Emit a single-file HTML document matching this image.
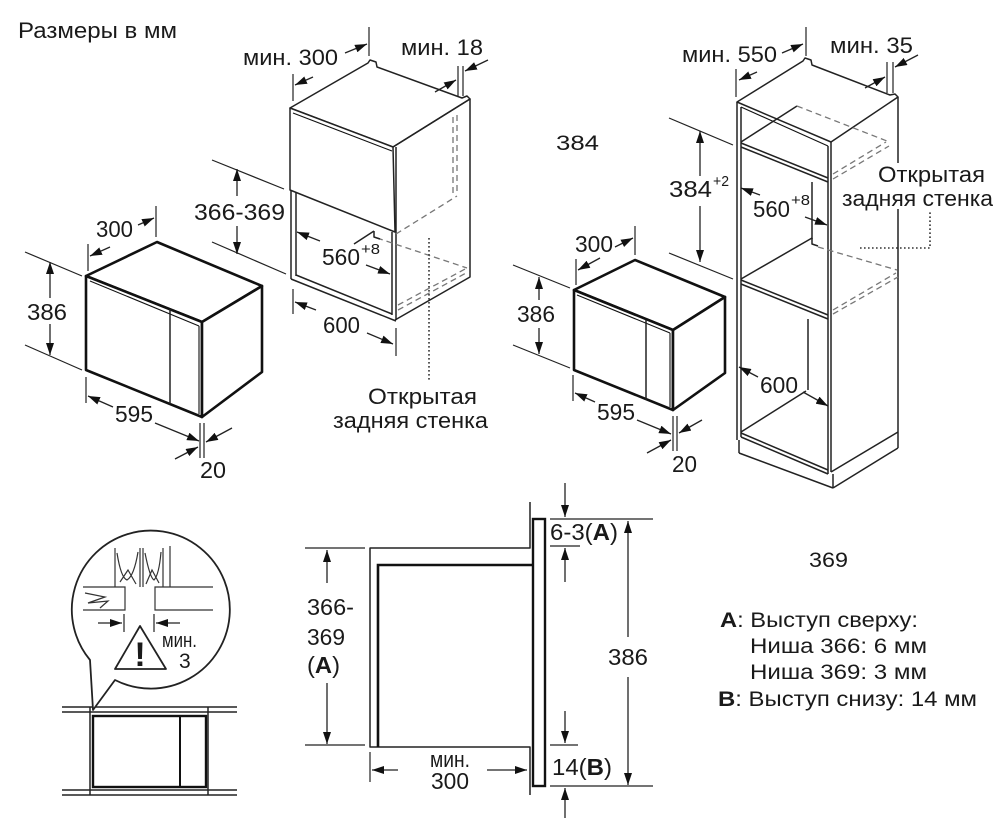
<!DOCTYPE html>
<html><head><meta charset="utf-8"><style>
html,body{margin:0;padding:0;background:#fff;}
svg{display:block;}
.o{fill:none;stroke:#222;stroke-width:1.5;stroke-linejoin:round}
.w{fill:#fff;stroke:#222;stroke-width:1.5;stroke-linejoin:round}
.t{fill:#fff;stroke:#111;stroke-width:2.6;stroke-linejoin:round}
.th{fill:none;stroke:#111;stroke-width:1.1}
.d{fill:none;stroke:#222;stroke-width:1.2}
.ar{fill:none;stroke:#222;stroke-width:1.3;marker-end:url(#a)}
.ds{fill:none;stroke:#777;stroke-width:1.3;stroke-dasharray:6 4}
.dt{fill:none;stroke:#333;stroke-width:1.6;stroke-dasharray:1.6 2.4}
text{font-family:"Liberation Sans",Arial,sans-serif;fill:#1a1a1a}
.n{font-size:23.5px}
.l{font-size:22.5px}
.g{font-size:21.5px}
.s{font-size:15px}
</style></head><body>
<svg width="1006" height="826" viewBox="0 0 1006 826" xmlns="http://www.w3.org/2000/svg">
<defs>
<marker id="a" markerUnits="userSpaceOnUse" markerWidth="12" markerHeight="8" viewBox="0 0 12 8" refX="12" refY="4" orient="auto">
<path d="M0,0 L12,4 L0,8 z" fill="#111"/>
</marker>
</defs>
<rect width="1006" height="826" fill="#fff"/>

<text class="l" x="18" y="38" textLength="159" lengthAdjust="spacingAndGlyphs">Размеры в мм</text>

<!-- ===== Left microwave ===== -->
<polygon class="t" points="86,276 157,242 262,286 202,322"/>
<polygon class="t" points="86,276 202,322 202,417 86,370"/>
<polygon class="t" points="202,322 262,286 262,372 202,417"/>
<line class="th" x1="90" y1="281" x2="199" y2="326"/>
<line class="th" x1="199" y1="326" x2="199" y2="414"/>
<line class="o" x1="170" y1="309" x2="170" y2="404"/>
<!-- dims -->
<line class="d" x1="25" y1="252" x2="82" y2="276"/>
<line class="d" x1="25" y1="345" x2="82" y2="370"/>
<line class="ar" x1="50" y1="298" x2="50" y2="262"/>
<line class="ar" x1="50" y1="324" x2="50" y2="355"/>
<text class="n" x="27" y="320" textLength="40" lengthAdjust="spacingAndGlyphs">386</text>
<line class="d" x1="88" y1="244" x2="88" y2="271"/>
<line class="d" x1="156" y1="206" x2="156" y2="237"/>
<line class="ar" x1="110" y1="247" x2="90" y2="256"/>
<line class="ar" x1="138" y1="225" x2="154" y2="218"/>
<text class="n" x="96" y="237" textLength="37" lengthAdjust="spacingAndGlyphs">300</text>
<line class="d" x1="86" y1="377" x2="86" y2="403"/>
<line class="ar" x1="113" y1="407" x2="88" y2="396"/>
<line class="ar" x1="155" y1="423" x2="199" y2="441"/>
<text class="n" x="115" y="422" textLength="38" lengthAdjust="spacingAndGlyphs">595</text>
<line class="d" x1="200" y1="423" x2="200" y2="458"/>
<line class="d" x1="204" y1="423" x2="204" y2="458"/>
<line class="ar" x1="232" y1="428" x2="206" y2="442"/>
<line class="ar" x1="175" y1="459" x2="198" y2="447"/>
<text class="n" x="200" y="478" textLength="26" lengthAdjust="spacingAndGlyphs">20</text>

<!-- ===== Middle cabinet ===== -->
<polygon class="w" points="290,108 368,63 370,60 376,62 377,67 462,98 467,96 470,99 393,147"/>
<polygon class="w" points="290,108 393,147 395,232 290,190"/>
<line class="th" x1="293" y1="113" x2="392" y2="151"/>
<polyline class="o" points="393,147 470,99 470,277 395,320"/>
<line class="o" x1="396" y1="147" x2="396" y2="320"/>
<line class="o" x1="392" y1="232" x2="392" y2="315"/>
<line class="o" x1="291" y1="190" x2="291" y2="279"/>
<line class="o" x1="296" y1="192" x2="296" y2="276"/>
<line class="o" x1="291" y1="279" x2="396" y2="321"/>
<line class="o" x1="296" y1="275" x2="392" y2="314"/>
<line class="ds" x1="453" y1="117" x2="453" y2="193"/>
<line class="ds" x1="457" y1="115" x2="457" y2="192"/>
<line class="ds" x1="396" y1="234" x2="457" y2="196"/>
<line class="ds" x1="377" y1="238" x2="467" y2="268"/>
<line class="ds" x1="398" y1="305" x2="467" y2="268"/>
<line class="ds" x1="398" y1="310" x2="468" y2="272"/>
<line class="o" x1="354" y1="244" x2="374" y2="231"/>
<path class="o" d="M374,231 L374,237 L380,239"/>
<line class="dt" x1="429" y1="238" x2="429" y2="380"/>
<!-- dims -->
<text class="l" x="243" y="65" textLength="95" lengthAdjust="spacingAndGlyphs">мин. 300</text>
<line class="ar" x1="345" y1="53" x2="367" y2="44"/>
<line class="d" x1="369" y1="27" x2="369" y2="56"/>
<line class="d" x1="293" y1="74" x2="293" y2="101"/>
<line class="ar" x1="313" y1="77" x2="295" y2="85"/>
<text class="l" x="401" y="55" textLength="82" lengthAdjust="spacingAndGlyphs">мин. 18</text>
<line class="d" x1="458" y1="66" x2="458" y2="96"/>
<line class="d" x1="463" y1="66" x2="463" y2="96"/>
<line class="ar" x1="435" y1="92" x2="456" y2="80"/>
<line class="ar" x1="488" y1="60" x2="465" y2="71"/>
<line class="d" x1="212" y1="160" x2="284" y2="189"/>
<line class="d" x1="212" y1="242" x2="286" y2="274"/>
<line class="ar" x1="237" y1="196" x2="237" y2="169"/>
<line class="ar" x1="237" y1="226" x2="237" y2="254"/>
<text class="n" x="194" y="220" textLength="91" lengthAdjust="spacingAndGlyphs">366-369</text>
<line class="ar" x1="320" y1="241" x2="297" y2="232"/>
<text class="n" x="322" y="265" textLength="38" lengthAdjust="spacingAndGlyphs">560</text>
<text class="s" x="361" y="254" textLength="19" lengthAdjust="spacingAndGlyphs">+8</text>
<line class="ar" x1="366" y1="265" x2="390" y2="274"/>
<line class="d" x1="293" y1="289" x2="293" y2="314"/>
<line class="ar" x1="316" y1="310" x2="295" y2="302"/>
<text class="n" x="323" y="333" textLength="37" lengthAdjust="spacingAndGlyphs">600</text>
<line class="ar" x1="367" y1="333" x2="393" y2="344"/>
<line class="d" x1="396" y1="328" x2="396" y2="356"/>
<text class="l" x="368" y="404" textLength="109" lengthAdjust="spacingAndGlyphs">Открытая</text>
<text class="l" x="333" y="428" textLength="155" lengthAdjust="spacingAndGlyphs">задняя стенка</text>

<!-- ===== Right cabinet ===== -->
<polygon class="w" points="737,102 803,61 805,58 811,60 812,65 890,95 895,94 898,97 831,142"/>
<line class="o" x1="737" y1="102" x2="737" y2="440"/>
<line class="o" x1="741" y1="107" x2="741" y2="437"/>
<line class="o" x1="828" y1="146" x2="828" y2="474"/>
<line class="o" x1="831" y1="142" x2="831" y2="472"/>
<line class="o" x1="898" y1="97" x2="898" y2="163"/>
<line class="o" x1="898" y1="209" x2="898" y2="448"/>
<line class="th" x1="741" y1="107" x2="828" y2="146"/>
<line class="o" x1="741" y1="143" x2="828" y2="178"/>
<line class="o" x1="741" y1="147" x2="828" y2="182"/>
<line class="o" x1="741" y1="142" x2="797" y2="106"/>
<line class="ds" x1="797" y1="106" x2="887" y2="141"/>
<line class="ds" x1="833" y1="174" x2="886" y2="142"/>
<line class="ds" x1="833" y1="179" x2="889" y2="146"/>
<line class="o" x1="812" y1="182" x2="812" y2="239"/>
<line class="o" x1="741" y1="279" x2="812" y2="238"/>
<path class="o" d="M812,238 L812,244 L818,246"/>
<line class="o" x1="741" y1="280" x2="828" y2="315"/>
<line class="o" x1="741" y1="284" x2="828" y2="319"/>
<line class="ds" x1="818" y1="247" x2="897" y2="270"/>
<line class="ds" x1="833" y1="310" x2="896" y2="273"/>
<line class="ds" x1="833" y1="314" x2="898" y2="277"/>
<line class="o" x1="808" y1="319" x2="808" y2="390"/>
<line class="o" x1="741" y1="432" x2="806" y2="391"/>
<line class="o" x1="741" y1="433" x2="828" y2="470"/>
<line class="o" x1="741" y1="437" x2="828" y2="474"/>
<line class="o" x1="739" y1="440" x2="739" y2="453"/>
<line class="o" x1="739" y1="453" x2="833" y2="488"/>
<line class="o" x1="833" y1="474" x2="833" y2="488"/>
<line class="o" x1="831" y1="472" x2="898" y2="432"/>
<line class="o" x1="833" y1="488" x2="898" y2="448"/>
<polyline class="dt" points="860,248 930,248 930,210"/>
<!-- dims -->
<text class="l" x="682" y="62" textLength="95" lengthAdjust="spacingAndGlyphs">мин. 550</text>
<line class="ar" x1="782" y1="53" x2="803" y2="44"/>
<line class="d" x1="806" y1="27" x2="806" y2="56"/>
<line class="d" x1="736" y1="69" x2="736" y2="97"/>
<line class="ar" x1="757" y1="72" x2="739" y2="80"/>
<text class="l" x="830" y="53" textLength="83" lengthAdjust="spacingAndGlyphs">мин. 35</text>
<line class="d" x1="887" y1="62" x2="887" y2="93"/>
<line class="d" x1="893" y1="62" x2="893" y2="93"/>
<line class="ar" x1="865" y1="88" x2="885" y2="77"/>
<line class="ar" x1="918" y1="55" x2="895" y2="67"/>
<line class="d" x1="669" y1="118" x2="733" y2="145"/>
<line class="d" x1="669" y1="253" x2="733" y2="279"/>
<line class="ar" x1="700" y1="176" x2="700" y2="131"/>
<line class="ar" x1="700" y1="206" x2="700" y2="262"/>
<text class="n" x="669" y="197" textLength="43" lengthAdjust="spacingAndGlyphs">384</text>
<text class="s" x="713" y="186" textLength="16" lengthAdjust="spacingAndGlyphs">+2</text>
<line class="ar" x1="760" y1="195" x2="741" y2="188"/>
<text class="n" x="753" y="217" textLength="37" lengthAdjust="spacingAndGlyphs">560</text>
<text class="s" x="791" y="205" textLength="19" lengthAdjust="spacingAndGlyphs">+8</text>
<line class="ar" x1="805" y1="217" x2="827" y2="225"/>
<text class="l" x="878" y="182" textLength="107" lengthAdjust="spacingAndGlyphs">Открытая</text>
<text class="l" x="842" y="206" textLength="151" lengthAdjust="spacingAndGlyphs">задняя стенка</text>
<line class="ar" x1="758" y1="377" x2="739" y2="367"/>
<text class="n" x="760" y="393" textLength="38" lengthAdjust="spacingAndGlyphs">600</text>
<line class="ar" x1="803" y1="392" x2="828" y2="406"/>
<text class="g" x="556" y="150" textLength="43" lengthAdjust="spacingAndGlyphs">384</text>

<!-- ===== Right microwave ===== -->
<polygon class="t" points="574,290 635,260 725,297 673,330"/>
<polygon class="t" points="574,290 673,330 673,410 574,370"/>
<polygon class="t" points="673,330 725,297 725,373 673,410"/>
<line class="th" x1="577" y1="295" x2="670" y2="333"/>
<line class="th" x1="670" y1="333" x2="670" y2="407"/>
<line class="o" x1="646" y1="320" x2="646" y2="400"/>
<line class="d" x1="513" y1="265" x2="570" y2="288"/>
<line class="d" x1="513" y1="345" x2="570" y2="368"/>
<line class="ar" x1="539" y1="300" x2="539" y2="277"/>
<line class="ar" x1="539" y1="328" x2="539" y2="354"/>
<text class="n" x="517" y="322" textLength="38" lengthAdjust="spacingAndGlyphs">386</text>
<line class="d" x1="576" y1="259" x2="576" y2="285"/>
<line class="d" x1="635" y1="226" x2="635" y2="255"/>
<line class="ar" x1="600" y1="258" x2="578" y2="270"/>
<line class="ar" x1="615" y1="247" x2="633" y2="238"/>
<text class="n" x="575" y="252" textLength="38" lengthAdjust="spacingAndGlyphs">300</text>
<line class="d" x1="573" y1="375" x2="573" y2="401"/>
<line class="ar" x1="595" y1="402" x2="575" y2="393"/>
<text class="n" x="597" y="420" textLength="38" lengthAdjust="spacingAndGlyphs">595</text>
<line class="ar" x1="637" y1="420" x2="671" y2="434"/>
<line class="d" x1="673" y1="416" x2="673" y2="451"/>
<line class="d" x1="677" y1="416" x2="677" y2="451"/>
<line class="ar" x1="702" y1="420" x2="679" y2="433"/>
<line class="ar" x1="647" y1="453" x2="671" y2="440"/>
<text class="n" x="672" y="472" textLength="25" lengthAdjust="spacingAndGlyphs">20</text>

<!-- ===== Bottom left detail ===== -->
<line class="o" x1="62" y1="707" x2="237" y2="707"/>
<line class="o" x1="62" y1="712" x2="237" y2="712"/>
<line class="o" x1="62" y1="790" x2="237" y2="790"/>
<line class="o" x1="62" y1="795" x2="237" y2="795"/>
<line class="o" x1="90" y1="707" x2="90" y2="795"/>
<line class="o" x1="208" y1="707" x2="208" y2="795"/>
<rect x="93" y="716" width="113" height="71" fill="none" stroke="#111" stroke-width="2.4"/>
<line x1="180" y1="716" x2="180" y2="787" stroke="#111" stroke-width="2"/>
<path d="M115,680 A79,79 0 1 0 90,660 L93,710 Z" fill="#fff" stroke="#222" stroke-width="1.8" stroke-linejoin="round"/>
<!-- inside circle -->
<g fill="none" stroke="#333" stroke-width="1.2">
<line x1="115" y1="548" x2="115" y2="587"/>
<line x1="140" y1="548" x2="140" y2="587"/>
<line x1="143" y1="548" x2="143" y2="587"/>
<line x1="163" y1="548" x2="163" y2="587"/>
<line x1="170" y1="546" x2="170" y2="587"/>
<path d="M117,553 Q121,578 127,580 Q134,576 138,552"/>
<path d="M145,553 Q150,578 154,580 Q159,575 161,552"/>
<path d="M120,582 L128,570 L136,584"/>
<path d="M146,584 L152,570 L159,583"/>
<polyline points="83,587 125,587 125,610 83,610"/>
<path d="M85,593 L105,597 L88,603 L108,601 L100,608"/>
<polyline points="213,587 155,587 155,610 213,610"/>
</g>
<line class="ar" x1="98" y1="623" x2="122" y2="623"/>
<line class="d" x1="124" y1="614" x2="124" y2="632"/>
<line class="ar" x1="180" y1="623" x2="156" y2="623"/>
<line class="d" x1="154" y1="614" x2="154" y2="632"/>
<path d="M140,626 L115,669 L166,669 Z" fill="none" stroke="#222" stroke-width="1.8" stroke-linejoin="round"/>
<text x="140" y="666" text-anchor="middle" style="font-size:34px;font-weight:bold">!</text>
<text x="162" y="647" style="font-size:20px" textLength="35" lengthAdjust="spacingAndGlyphs">мин.</text>
<text x="179" y="668" style="font-size:21px">3</text>

<!-- ===== Bottom middle section ===== -->
<polyline class="o" points="530,502 530,548 370,548 370,747 530,747 530,795"/>
<polyline fill="none" stroke="#111" stroke-width="2.6" points="533,565 378,565 378,747"/>
<rect x="533" y="519" width="12" height="267" fill="#fff" stroke="#111" stroke-width="2.4"/>
<line class="d" x1="550" y1="519" x2="653" y2="519"/>
<line class="d" x1="550" y1="546" x2="580" y2="546"/>
<line class="d" x1="550" y1="745" x2="578" y2="745"/>
<line class="d" x1="550" y1="786" x2="653" y2="786"/>
<line class="ar" x1="565" y1="483" x2="565" y2="517"/>
<line class="ar" x1="565" y1="582" x2="565" y2="548"/>
<line class="ar" x1="565" y1="711" x2="565" y2="743"/>
<line class="ar" x1="565" y1="818" x2="565" y2="788"/>
<text class="n" x="550" y="540" textLength="68" lengthAdjust="spacingAndGlyphs">6-3(<tspan font-weight="bold">A</tspan>)</text>
<text class="n" x="552" y="775" textLength="60" lengthAdjust="spacingAndGlyphs">14(<tspan font-weight="bold">B</tspan>)</text>
<line class="ar" x1="628" y1="637" x2="628" y2="521"/>
<line class="ar" x1="628" y1="677" x2="628" y2="785"/>
<text class="n" x="608" y="665" textLength="40" lengthAdjust="spacingAndGlyphs">386</text>
<line class="d" x1="305" y1="548" x2="365" y2="548"/>
<line class="d" x1="305" y1="745" x2="365" y2="745"/>
<line class="ar" x1="327" y1="583" x2="327" y2="550"/>
<line class="ar" x1="327" y1="683" x2="327" y2="744"/>
<text class="n" x="307" y="615" textLength="47" lengthAdjust="spacingAndGlyphs">366-</text>
<text class="n" x="307" y="645" textLength="38" lengthAdjust="spacingAndGlyphs">369</text>
<text class="n" x="307" y="673" textLength="33" lengthAdjust="spacingAndGlyphs">(<tspan font-weight="bold">A</tspan>)</text>
<line class="d" x1="370" y1="752" x2="370" y2="782"/>
<line class="ar" x1="398" y1="770" x2="372" y2="770"/>
<line class="ar" x1="487" y1="770" x2="527" y2="770"/>
<text class="l" x="430" y="767" textLength="40" lengthAdjust="spacingAndGlyphs">мин.</text>
<text class="n" x="431" y="789" textLength="38" lengthAdjust="spacingAndGlyphs">300</text>

<!-- ===== Legend ===== -->
<text class="g" x="809" y="567" textLength="39" lengthAdjust="spacingAndGlyphs">369</text>
<text class="g" x="720" y="627" textLength="198" lengthAdjust="spacingAndGlyphs"><tspan font-weight="bold">A</tspan>: Выступ сверху:</text>
<text class="g" x="750" y="653" textLength="177" lengthAdjust="spacingAndGlyphs">Ниша 366: 6 мм</text>
<text class="g" x="750" y="679" textLength="177" lengthAdjust="spacingAndGlyphs">Ниша 369: 3 мм</text>
<text class="g" x="718" y="706" textLength="259" lengthAdjust="spacingAndGlyphs"><tspan font-weight="bold">B</tspan>: Выступ снизу: 14 мм</text>
</svg>
</body></html>
